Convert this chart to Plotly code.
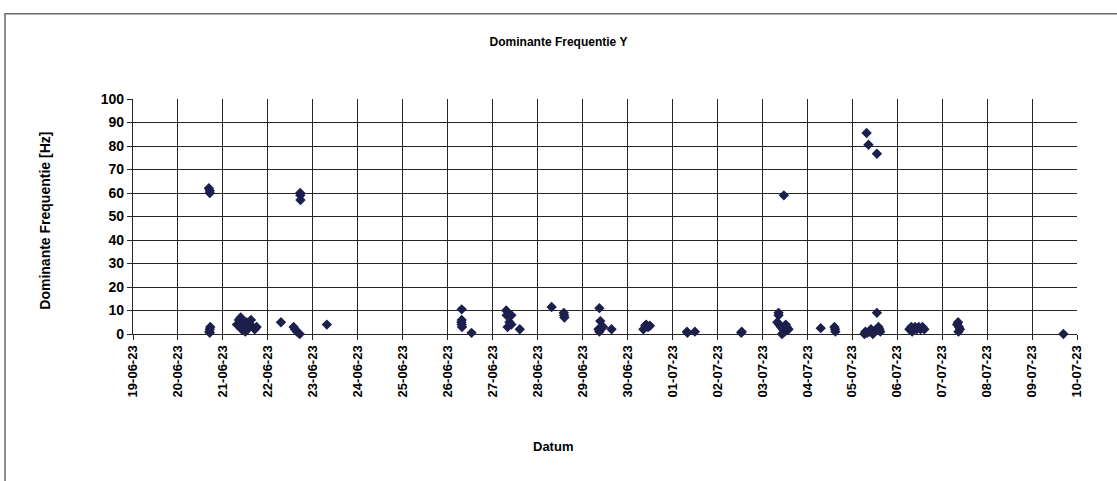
import plotly.graph_objects as go
import pandas as pd

# Measurement timestamps and dominant frequency values (Hz)
times = [
    "2023-06-20 16:30", "2023-06-20 17:00", "2023-06-20 17:00", "2023-06-20 16:45",
    "2023-06-20 17:00", "2023-06-20 17:15", "2023-06-20 17:00",
    "2023-06-21 07:30", "2023-06-21 08:30", "2023-06-21 09:30", "2023-06-21 10:30",
    "2023-06-21 11:30", "2023-06-21 12:00", "2023-06-21 13:00", "2023-06-21 14:00",
    "2023-06-21 15:00", "2023-06-21 16:00", "2023-06-21 17:00", "2023-06-21 18:00",
    "2023-06-21 12:30", "2023-06-21 10:00",
    "2023-06-22 07:00", "2023-06-22 13:45", "2023-06-22 14:30", "2023-06-22 15:30",
    "2023-06-22 17:00", "2023-06-22 17:15", "2023-06-22 17:20", "2023-06-22 17:25",
    "2023-06-23 07:30",
    "2023-06-26 07:30", "2023-06-26 07:30", "2023-06-26 07:20", "2023-06-26 07:30",
    "2023-06-26 07:40", "2023-06-26 12:45",
    "2023-06-27 07:15", "2023-06-27 07:30", "2023-06-27 08:00", "2023-06-27 09:00",
    "2023-06-27 10:00", "2023-06-27 10:00", "2023-06-27 14:30",
    "2023-06-28 07:30", "2023-06-28 14:00", "2023-06-28 14:10", "2023-06-28 14:20",
    "2023-06-29 09:00", "2023-06-29 09:30", "2023-06-29 08:30", "2023-06-29 09:00",
    "2023-06-29 15:30", "2023-06-29 11:00",
    "2023-06-30 08:30", "2023-06-30 09:30", "2023-06-30 10:00", "2023-06-30 12:00",
    "2023-06-30 11:00",
    "2023-07-01 07:45", "2023-07-01 12:00", "2023-07-01 08:00",
    "2023-07-02 12:45", "2023-07-02 13:00",
    "2023-07-03 08:40", "2023-07-03 08:40", "2023-07-03 09:00", "2023-07-03 10:00",
    "2023-07-03 11:00", "2023-07-03 12:00", "2023-07-03 11:30", "2023-07-03 13:00",
    "2023-07-03 14:00", "2023-07-03 10:30", "2023-07-03 12:30", "2023-07-03 08:00",
    "2023-07-04 07:10", "2023-07-04 14:50", "2023-07-04 15:00", "2023-07-04 14:30",
    "2023-07-05 07:40", "2023-07-05 08:40", "2023-07-05 13:10", "2023-07-05 13:10",
    "2023-07-05 06:30", "2023-07-05 07:00", "2023-07-05 08:00", "2023-07-05 09:00",
    "2023-07-05 10:00", "2023-07-05 11:00", "2023-07-05 12:00", "2023-07-05 13:00",
    "2023-07-05 14:00", "2023-07-05 14:30", "2023-07-05 15:00",
    "2023-07-06 06:30", "2023-07-06 07:30", "2023-07-06 08:30", "2023-07-06 09:30",
    "2023-07-06 10:30", "2023-07-06 11:30", "2023-07-06 12:30", "2023-07-06 13:30",
    "2023-07-06 14:30", "2023-07-06 08:00",
    "2023-07-07 08:00", "2023-07-07 08:30", "2023-07-07 09:00", "2023-07-07 08:45",
    "2023-07-07 09:30",
    "2023-07-09 16:45",
]
freqs = [
    62, 61, 60, 1,
    2, 3, 0.5,
    4, 6, 7, 5,
    3, 1, 2, 4,
    6, 3, 2, 3,
    5, 2,
    5, 3, 2, 1,
    0, 60, 59, 57,
    4,
    10.5, 6, 5, 4,
    3, 0.5,
    10, 8, 3, 5,
    4, 8, 2,
    11.5, 9, 8, 7,
    11, 5.5, 2, 1,
    2, 3,
    2, 3.5, 4, 3.5,
    3,
    1, 1, 0.5,
    0.5, 1,
    9, 8, 4, 3,
    2, 1, 59, 3,
    2, 0, 4, 5,
    2.5, 2, 1, 3,
    85.5, 80.5, 76.7, 9,
    0, 1, 0.5, 1,
    2, 0, 1, 2,
    3, 2, 1,
    2, 3, 2, 3,
    2, 3, 2, 3,
    2, 1,
    4, 5, 3, 1,
    2,
    0,
]

day_ticks = pd.date_range("2023-06-19", "2023-07-10", freq="D")
day_labels = [d.strftime("%d-%m-%y") for d in day_ticks]
y_ticks = list(range(0, 101, 10))

FONT = "Liberation Sans, Arial, sans-serif"
MARKER = "#1c1f4d"
GRID = "#262626"

fig = go.Figure()
fig.add_trace(go.Scatter(
    x=pd.to_datetime(times), y=freqs, mode="markers",
    marker=dict(symbol="diamond", size=8, color=MARKER, line=dict(width=0)),
    showlegend=False, cliponaxis=False,
))

fig.update_layout(
    width=1117, height=481,
    margin=dict(l=133, r=40, t=99, b=147),
    paper_bgcolor="white", plot_bgcolor="white",
    font=dict(family=FONT, color="black"),
    title=dict(text="<b>Dominante Frequentie Y</b>", x=0.5, xref="container",
               y=1 - 42 / 481, yref="container", xanchor="center", yanchor="middle",
               font=dict(size=12, family=FONT, color="black")),
    xaxis=dict(
        type="date", range=[day_ticks[0], day_ticks[-1]],
        tickvals=list(day_ticks), ticktext=[f"<b>{t}</b>" for t in day_labels],
        tickangle=-90, tickfont=dict(size=13, family=FONT, color="black"),
        showgrid=True, gridcolor=GRID, gridwidth=1.3,
        showline=True, linecolor=GRID, linewidth=1.3,
        ticks="outside", ticklen=5, tickcolor=GRID, zeroline=False,
    ),
    yaxis=dict(
        range=[0, 100], tickvals=y_ticks, ticktext=[f"<b>{v}</b>" for v in y_ticks],
        tickfont=dict(size=14, family=FONT, color="black"),
        showgrid=True, gridcolor=GRID, gridwidth=1.3,
        showline=True, linecolor=GRID, linewidth=1.3,
        ticks="outside", ticklen=5, tickcolor=GRID, zeroline=False,
    ),
)

# axis titles
fig.add_annotation(text="<b>Datum</b>", xref="paper", yref="paper",
                   x=(553 - 133) / 944, y=-(447 - 334.3) / 235,
                   xanchor="center", yanchor="middle", showarrow=False,
                   font=dict(size=13, family=FONT, color="black"))
fig.add_annotation(text="<b>Dominante Frequentie [Hz]</b>", xref="paper", yref="paper",
                   x=(45 - 133) / 944, y=(334.3 - 221) / 235,
                   xanchor="center", yanchor="middle", showarrow=False, textangle=-90,
                   font=dict(size=14, family=FONT, color="black"))

# outer chart frame
fig.add_shape(type="rect", xref="paper", yref="paper",
              x0=(5 - 133) / 944, x1=(1125 - 133) / 944,
              y0=(334.3 - 495) / 235, y1=(334.3 - 14) / 235,
              line=dict(color="#6a6a6a", width=1.5), fillcolor="rgba(0,0,0,0)", layer="below")

fig.write_html("out.html", config={"displayModeBar": False},
               post_script="document.body.style.margin='0';document.body.style.overflow='hidden';")
